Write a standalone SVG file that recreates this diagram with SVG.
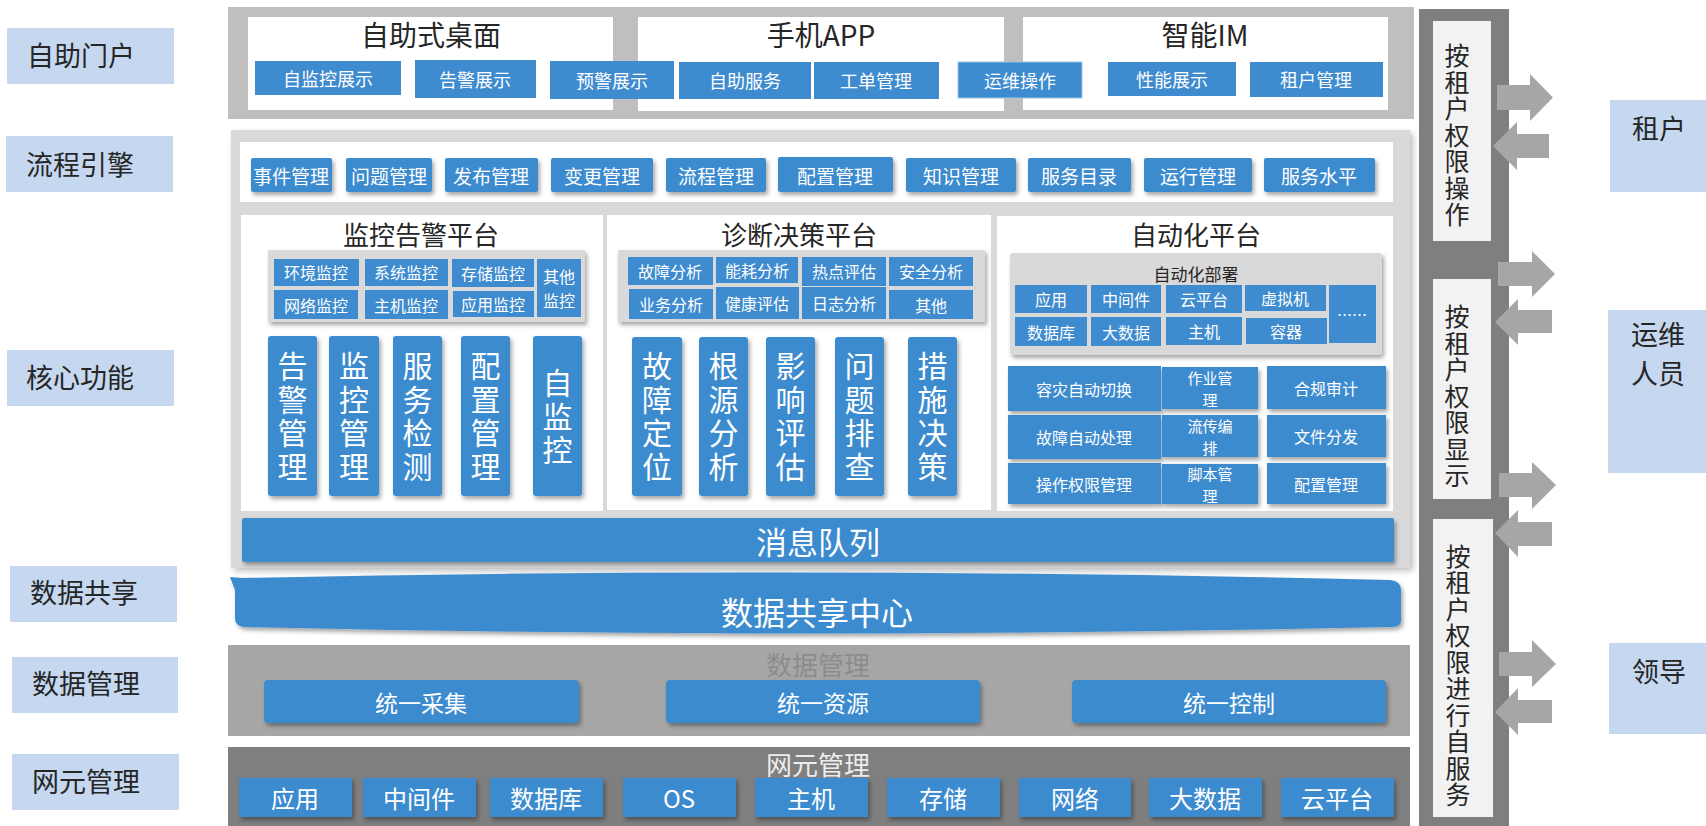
<svg xmlns="http://www.w3.org/2000/svg" width="1706" height="826" viewBox="0 0 1706 826" font-family="'Noto Sans CJK SC', 'Noto Sans', sans-serif">
<defs>
<filter id="sh" x="-20%" y="-20%" width="140%" height="160%"><feDropShadow dx="2" dy="3" stdDeviation="2" flood-color="#000" flood-opacity="0.35"/></filter>
<filter id="shb" x="-5%" y="-5%" width="110%" height="115%"><feDropShadow dx="3" dy="3" stdDeviation="3" flood-color="#000" flood-opacity="0.25"/></filter>
<style>
.lbl{fill:#C5D8F0}
.lt{font-size:27px;fill:#262626;dominant-baseline:central}
.b{fill:#3E8BCF}
.bt{fill:#fff;text-anchor:middle;dominant-baseline:central}
.f18{font-size:18px}
.f19{font-size:19px}
.f16{font-size:16px}
.f15{font-size:15px}
.ttl{fill:#262626;text-anchor:middle;dominant-baseline:central}
.wp{fill:#fff}
.gp{fill:#D9D9D9}
.vb{fill:#fff;font-size:30px;letter-spacing:3.5px;writing-mode:vertical-rl;text-anchor:middle}
.vt{font-size:25px;fill:#262626;text-anchor:middle;writing-mode:vertical-rl;letter-spacing:1.5px}
.arr{fill:#A6A6A6}
</style>
</defs>
<rect width="1706" height="826" fill="#fff"/>

<!-- left labels -->
<g id="l-portal"><rect class="lbl" x="7" y="28" width="167" height="56"/><text class="lt" x="27" y="54">自助门户</text></g>
<g id="l-flow"><rect class="lbl" x="6" y="136" width="167" height="56"/><text class="lt" x="26" y="163">流程引擎</text></g>
<g id="l-core"><rect class="lbl" x="7" y="350" width="167" height="56"/><text class="lt" x="26" y="376">核心功能</text></g>
<g id="l-share"><rect class="lbl" x="10" y="566" width="167" height="56"/><text class="lt" x="30" y="591">数据共享</text></g>
<g id="l-dm"><rect class="lbl" x="12" y="657" width="166" height="56"/><text class="lt" x="32" y="682">数据管理</text></g>
<g id="l-ne"><rect class="lbl" x="12" y="754" width="167" height="56"/><text class="lt" x="32" y="780">网元管理</text></g>

<!-- top portal -->
<g id="portal">
<rect x="228" y="7" width="1186" height="112" fill="#BFBFBF"/>
<rect class="wp" x="248" y="17" width="365" height="93"/>
<rect class="wp" x="638" y="17" width="366" height="94"/>
<rect class="wp" x="1023" y="17" width="365" height="93"/>
<text class="ttl" x="431" y="34" font-size="28">自助式桌面</text>
<text class="ttl" x="821" y="34" font-size="28">手机APP</text>
<text class="ttl" x="1205" y="34" font-size="28">智能IM</text>
<rect class="b" x="255" y="61" width="146" height="34"/><text class="bt f18" x="328" y="78">自监控展示</text>
<rect class="b" x="415" y="60" width="121" height="38"/><text class="bt f18" x="475" y="79">告警展示</text>
<rect class="b" x="550" y="61" width="124" height="38"/><text class="bt f18" x="612" y="80">预警展示</text>
<rect class="b" x="679" y="62" width="132" height="37"/><text class="bt f18" x="745" y="80">自助服务</text>
<rect class="b" x="814" y="62" width="125" height="37"/><text class="bt f18" x="876" y="80">工单管理</text>
<rect class="b" x="958" y="62" width="124" height="36" stroke="#9CC3E6" stroke-width="1"/><text class="bt f18" x="1020" y="80">运维操作</text>
<rect class="b" x="1108" y="62" width="128" height="34"/><text class="bt f18" x="1172" y="79">性能展示</text>
<rect class="b" x="1250" y="62" width="133" height="35"/><text class="bt f18" x="1316" y="79">租户管理</text>
</g>

<!-- core frame -->
<g id="core">
<rect class="gp" x="231" y="130" width="1179" height="438" filter="url(#shb)"/>
<rect class="wp" x="240" y="142" width="1153" height="60"/>
<g filter="url(#sh)">
<rect class="b" x="251" y="158" width="81" height="34" rx="2"/>
<rect class="b" x="346" y="158" width="86" height="34" rx="2"/>
<rect class="b" x="445" y="158" width="93" height="34" rx="2"/>
<rect class="b" x="551" y="158" width="102" height="34" rx="2"/>
<rect class="b" x="666" y="158" width="100" height="34" rx="2"/>
<rect class="b" x="778" y="157" width="115" height="35" rx="2"/>
<rect class="b" x="906" y="158" width="110" height="34" rx="2"/>
<rect class="b" x="1028" y="158" width="103" height="34" rx="2"/>
<rect class="b" x="1144" y="158" width="108" height="34" rx="2"/>
<rect class="b" x="1264" y="158" width="111" height="34" rx="2"/>
</g>
<text class="bt f19" x="291" y="175">事件管理</text>
<text class="bt f19" x="389" y="175">问题管理</text>
<text class="bt f19" x="491" y="175">发布管理</text>
<text class="bt f19" x="602" y="175">变更管理</text>
<text class="bt f19" x="716" y="175">流程管理</text>
<text class="bt f19" x="835" y="175">配置管理</text>
<text class="bt f19" x="961" y="175">知识管理</text>
<text class="bt f19" x="1079" y="175">服务目录</text>
<text class="bt f19" x="1198" y="175">运行管理</text>
<text class="bt f19" x="1319" y="175">服务水平</text>
</g>

<!-- monitoring platform -->
<g id="monitor">
<rect class="wp" x="241" y="215" width="362" height="296"/>
<text class="ttl" x="421" y="233" font-size="26">监控告警平台</text>
<rect class="gp" x="268" y="250" width="317" height="72" filter="url(#sh)"/>
<rect class="b" x="274" y="259" width="85" height="27"/><text class="bt f16" x="316" y="272">环境监控</text>
<rect class="b" x="365" y="259" width="83" height="27"/><text class="bt f16" x="406" y="272">系统监控</text>
<rect class="b" x="452" y="259" width="82" height="28"/><text class="bt f16" x="493" y="273">存储监控</text>
<rect class="b" x="537" y="259" width="44" height="58"/><text class="bt f16"><tspan x="559" y="276">其他</tspan><tspan x="559" y="300">监控</tspan></text>
<rect class="b" x="274" y="290" width="84" height="29"/><text class="bt f16" x="316" y="305">网络监控</text>
<rect class="b" x="365" y="290" width="83" height="29"/><text class="bt f16" x="406" y="305">主机监控</text>
<rect class="b" x="453" y="291" width="81" height="26"/><text class="bt f16" x="493" y="304">应用监控</text>
<g filter="url(#sh)">
<rect class="b" x="268" y="336" width="49" height="160" rx="3"/>
<rect class="b" x="329" y="336" width="50" height="160" rx="3"/>
<rect class="b" x="393" y="336" width="49" height="160" rx="3"/>
<rect class="b" x="461" y="336" width="49" height="160" rx="3"/>
<rect class="b" x="533" y="336" width="49" height="160" rx="3"/>
</g>
<text class="vb" x="292.5" y="418">告警管理</text>
<text class="vb" x="354" y="418">监控管理</text>
<text class="vb" x="417.5" y="418">服务检测</text>
<text class="vb" x="485.5" y="418">配置管理</text>
<text class="vb" x="557.5" y="418">自监控</text>
</g>

<!-- diagnosis platform -->
<g id="diagnose">
<rect class="wp" x="607" y="215" width="384" height="295"/>
<text class="ttl" x="799" y="233" font-size="26">诊断决策平台</text>
<rect class="gp" x="618" y="250" width="367" height="72" filter="url(#sh)"/>
<rect class="b" x="628" y="257" width="85" height="28"/><text class="bt f16" x="670" y="271">故障分析</text>
<rect class="b" x="716" y="257" width="82" height="26"/><text class="bt f16" x="757" y="270">能耗分析</text>
<rect class="b" x="802" y="257" width="84" height="29"/><text class="bt f16" x="844" y="271">热点评估</text>
<rect class="b" x="889" y="257" width="84" height="29"/><text class="bt f16" x="931" y="271">安全分析</text>
<rect class="b" x="629" y="289" width="84" height="30"/><text class="bt f16" x="671" y="304">业务分析</text>
<rect class="b" x="716" y="287" width="83" height="32"/><text class="bt f16" x="757" y="303">健康评估</text>
<rect class="b" x="802" y="287" width="84" height="32"/><text class="bt f16" x="844" y="303">日志分析</text>
<rect class="b" x="889" y="290" width="84" height="29"/><text class="bt f16" x="931" y="305">其他</text>
<g filter="url(#sh)">
<rect class="b" x="632" y="337" width="50" height="159" rx="3"/>
<rect class="b" x="699" y="337" width="49" height="159" rx="3"/>
<rect class="b" x="766" y="337" width="49" height="159" rx="3"/>
<rect class="b" x="835" y="337" width="49" height="159" rx="3"/>
<rect class="b" x="908" y="337" width="49" height="159" rx="3"/>
</g>
<text class="vb" x="657" y="418">故障定位</text>
<text class="vb" x="723.5" y="418">根源分析</text>
<text class="vb" x="790.5" y="418">影响评估</text>
<text class="vb" x="859.5" y="418">问题排查</text>
<text class="vb" x="932.5" y="418">措施决策</text>
</g>

<!-- automation platform -->
<g id="automation">
<rect class="wp" x="997" y="216" width="396" height="295"/>
<text class="ttl" x="1196" y="233" font-size="26">自动化平台</text>
<rect class="gp" x="1010" y="253" width="372" height="102" rx="3" filter="url(#sh)"/>
<text class="ttl" x="1196" y="273" font-size="17">自动化部署</text>
<rect class="b" x="1015" y="285" width="72" height="28"/><text class="bt f16" x="1051" y="299">应用</text>
<rect class="b" x="1091" y="285" width="70" height="28"/><text class="bt f16" x="1126" y="299">中间件</text>
<rect class="b" x="1166" y="285" width="76" height="28"/><text class="bt f16" x="1204" y="299">云平台</text>
<rect class="b" x="1245" y="285" width="81" height="26"/><text class="bt f16" x="1285" y="298">虚拟机</text>
<rect class="b" x="1329" y="285" width="47" height="58"/><text class="bt f15" x="1352" y="314">……</text>
<rect class="b" x="1015" y="317" width="72" height="29"/><text class="bt f16" x="1051" y="332">数据库</text>
<rect class="b" x="1091" y="317" width="70" height="29"/><text class="bt f16" x="1126" y="332">大数据</text>
<rect class="b" x="1166" y="317" width="76" height="28"/><text class="bt f16" x="1204" y="331">主机</text>
<rect class="b" x="1246" y="318" width="81" height="26"/><text class="bt f16" x="1286" y="331">容器</text>
<g filter="url(#sh)">
<rect class="b" x="1008" y="366" width="153" height="45"/>
<rect class="b" x="1162" y="367" width="96" height="42"/>
<rect class="b" x="1267" y="366" width="119" height="43"/>
<rect class="b" x="1008" y="415" width="153" height="44"/>
<rect class="b" x="1162" y="415" width="96" height="42"/>
<rect class="b" x="1267" y="415" width="119" height="42"/>
<rect class="b" x="1008" y="463" width="153" height="41"/>
<rect class="b" x="1162" y="464" width="96" height="40"/>
<rect class="b" x="1267" y="463" width="119" height="41"/>
</g>
<text class="bt f16" x="1084" y="389">容灾自动切换</text>
<text class="bt f15"><tspan x="1210" y="377">作业管</tspan><tspan x="1210" y="399">理</tspan></text>
<text class="bt f16" x="1326" y="388">合规审计</text>
<text class="bt f16" x="1084" y="437">故障自动处理</text>
<text class="bt f15"><tspan x="1210" y="425">流传编</tspan><tspan x="1210" y="447">排</tspan></text>
<text class="bt f16" x="1326" y="436">文件分发</text>
<text class="bt f16" x="1084" y="484">操作权限管理</text>
<text class="bt f15"><tspan x="1210" y="473">脚本管</tspan><tspan x="1210" y="495">理</tspan></text>
<text class="bt f16" x="1326" y="484">配置管理</text>
</g>

<!-- message queue -->
<g id="mq">
<rect class="b" x="242" y="518" width="1152" height="44" rx="2" filter="url(#sh)"/>
<text class="bt" x="818" y="540" font-size="31">消息队列</text>
</g>

<!-- data sharing center -->
<g id="share">
<path class="b" filter="url(#sh)" d="M230,577 L242,578 Q800,566 1390,580 Q1401,581 1401,590 L1401,621 Q1401,627 1390,627 Q800,640 244,627 Q235,626 235,618 L235,590 Z"/>
<text class="bt" x="817" y="611" font-size="32">数据共享中心</text>
</g>

<!-- data management -->
<g id="datamgmt">
<rect x="228" y="645" width="1182" height="91" fill="#A6A6A6"/>
<text x="818" y="663" font-size="26" fill="#8C8C8C" text-anchor="middle" dominant-baseline="central">数据管理</text>
<g filter="url(#sh)">
<rect class="b" x="264" y="680" width="315" height="43" rx="4"/>
<rect class="b" x="666" y="680" width="314" height="43" rx="4"/>
<rect class="b" x="1072" y="680" width="314" height="43" rx="4"/>
</g>
<text class="bt" x="421" y="702" font-size="23">统一采集</text>
<text class="bt" x="823" y="702" font-size="23">统一资源</text>
<text class="bt" x="1229" y="702" font-size="23">统一控制</text>
</g>

<!-- network element management -->
<g id="nemgmt">
<rect x="228" y="747" width="1182" height="79" fill="#7F7F7F"/>
<text x="818" y="763" font-size="26" fill="#EDEDED" text-anchor="middle" dominant-baseline="central">网元管理</text>
<g filter="url(#sh)">
<rect class="b" x="239" y="778" width="113" height="39"/>
<rect class="b" x="363" y="778" width="113" height="39"/>
<rect class="b" x="490" y="778" width="113" height="39"/>
<rect class="b" x="623" y="778" width="113" height="39"/>
<rect class="b" x="755" y="778" width="113" height="39"/>
<rect class="b" x="887" y="778" width="113" height="39"/>
<rect class="b" x="1019" y="778" width="112" height="39"/>
<rect class="b" x="1149" y="778" width="113" height="39"/>
<rect class="b" x="1281" y="778" width="113" height="39"/>
</g>
<g class="bt" font-size="24">
<text x="295" y="797">应用</text>
<text x="419" y="797">中间件</text>
<text x="546" y="797">数据库</text>
<text x="679" y="797">OS</text>
<text x="811" y="797">主机</text>
<text x="943" y="797">存储</text>
<text x="1075" y="797">网络</text>
<text x="1205" y="797">大数据</text>
<text x="1337" y="797">云平台</text>
</g>
</g>

<!-- permission column -->
<g id="perm">
<rect x="1419" y="9" width="90" height="817" fill="#7F7F7F"/>
<rect x="1433" y="21" width="58" height="220" fill="#F2F2F2"/>
<rect x="1433" y="279" width="58" height="220" fill="#F2F2F2"/>
<rect x="1433" y="519" width="60" height="298" fill="#F2F2F2"/>
<text class="vt" x="1457" y="136">按租户权限操作</text>
<text class="vt" x="1457" y="397">按租户权限显示</text>
<text class="vt" x="1458" y="676" letter-spacing="1.7">按租户权限进行自服务</text>
</g>

<!-- right labels -->
<g id="r-tenant"><rect class="lbl" x="1610" y="100" width="96" height="92"/><text class="ttl" x="1659" y="127" font-size="27">租户</text></g>
<g id="r-ops"><rect class="lbl" x="1608" y="310" width="98" height="163"/><text class="ttl" x="1658" y="352" font-size="27" writing-mode="horizontal-tb"><tspan x="1658" y="333">运维</tspan><tspan x="1658" y="372">人员</tspan></text></g>
<g id="r-leader"><rect class="lbl" x="1609" y="643" width="97" height="91"/><text class="ttl" x="1659" y="670" font-size="27">领导</text></g>

<!-- connectors -->
<g id="connectors">
<polygon class="arr" points="1497,85 1530,85 1530,74 1553,97.5 1530,121 1530,110 1497,110"/>
<polygon class="arr" points="1549,134 1517,134 1517,122 1493,146 1517,170 1517,158 1549,158"/>
<polygon class="arr" points="1498,262 1532,262 1532,251 1555,274 1532,297 1532,286 1498,286"/>
<polygon class="arr" points="1552,310 1518,310 1518,299 1495,322 1518,345 1518,333 1552,333"/>
<polygon class="arr" points="1499,473 1532,473 1532,462 1556,485 1532,509 1532,497 1499,497"/>
<polygon class="arr" points="1552,522 1518,522 1518,510 1495,533 1518,557 1518,546 1552,546"/>
<polygon class="arr" points="1499,652 1532,652 1532,640 1556,664 1532,687 1532,676 1499,676"/>
<polygon class="arr" points="1552,700 1518,700 1518,688 1495,712 1518,735 1518,723 1552,723"/>
</g>
</svg>
